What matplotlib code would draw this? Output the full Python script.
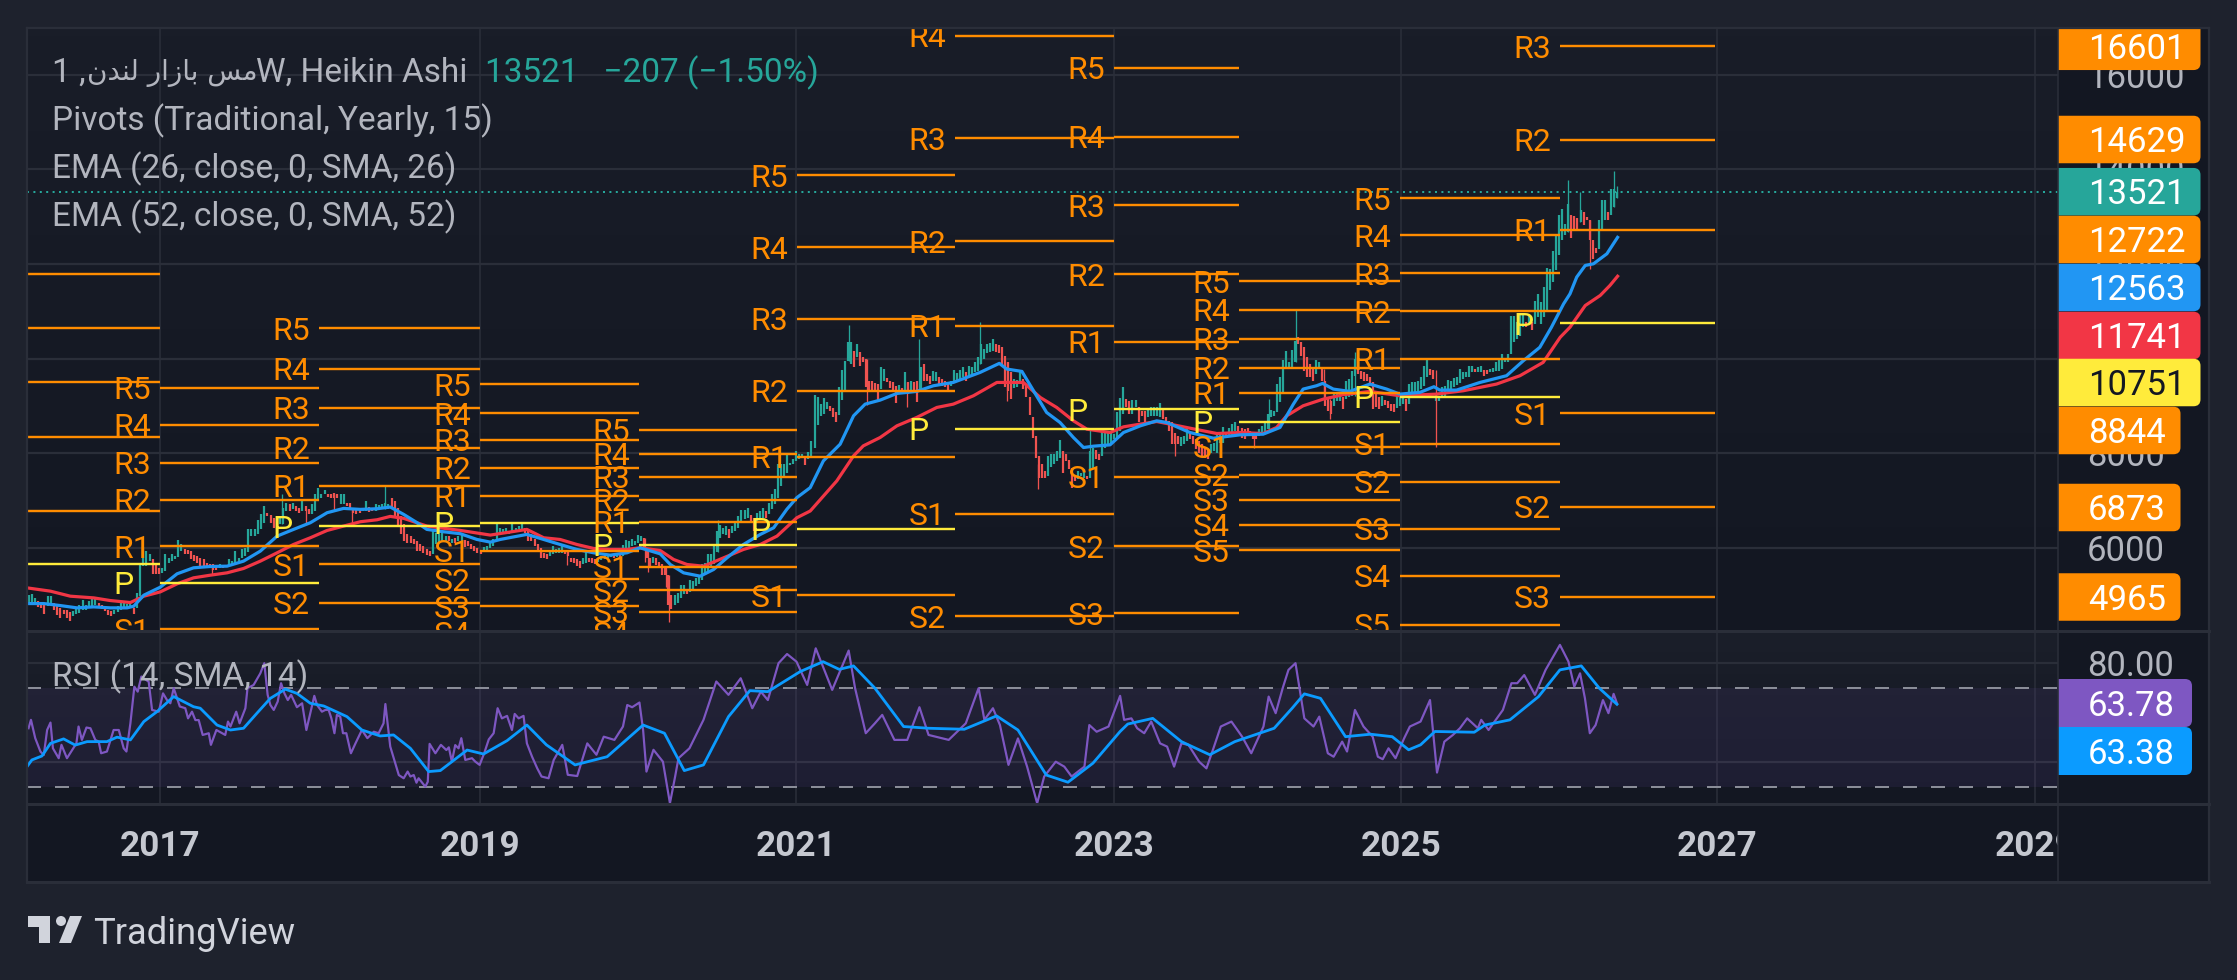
import numpy as np
import matplotlib
matplotlib.use("Agg")
import matplotlib.pyplot as plt
from matplotlib.collections import LineCollection
from matplotlib.lines import Line2D
from matplotlib.patches import PathPatch, Polygon, Circle
from matplotlib.path import Path
from matplotlib.transforms import Affine2D

# ---------- data: weekly Heikin Ashi bodies as (open, close) ----------
bodies_2016_2019 = [
(4790,5010),(4835,5025),(4835,4940),(4885,4750),(4835,4730),(4800,4600),(4765,4990),(4800,4990),(4835,4695),(4785,4575),
(4730,4520),(4695,4600),(4675,4520),(4645,4460),(4555,4660),(4590,4730),(4625,4785),(4675,4905),(4695,4785),(4730,4870),
(4765,4925),(4800,4925),(4835,4765),(4800,4715),(4765,4660),(4695,4575),(4660,4555),(4605,4695),(4645,4765),(4695,4835),
(4730,4835),(4715,4815),(4730,4835),(4730,4600),(4730,5045),(4975,5680),(5612,6015),(5612,5930),(5718,5859),(5753,5436),
(5647,5436),(5577,5436),(5471,5577),(5506,5859),(5683,5789),(5718,5859),(5753,5824),(5803,6156),(5930,6071),(5965,5859),
(5944,5859),(5930,5753),(5838,5718),(5824,5683),(5789,5612),(5753,5591),(5683,5577),(5647,5577),(5647,5541),(5612,5541),
(5563,5647),(5633,5577),(5633,5591),(5612,5767),(5633,5718),(5661,5930),(5718,5789),(5789,5965),(5824,5986),(5916,6403),
(6247,6403),(6247,6403),(6297,6579),(6389,6720),(6530,6883),(6742,6671),(6685,6530),(6636,6424),(6600,6389),(6495,6671),
(6495,6848),(6777,6954),(6918,6777),(6812,6954),(6883,6777),(6848,6742),(6777,6989),(6883,6777),(6812,6706),(6706,6918),
(6777,7130),(6989,7257),(7059,7130),(7130,7215),(7130,7073),(7130,7045),(7165,7059),(7144,7045),(6918,7130),(6918,7144),
(6954,6883),(6954,6848),(6848,6742),(6812,6706),(6812,6742),(6777,6848),(6777,6989),(6862,6763),(6848,6777),(6777,6918),
(6812,6904),(6812,6918),(6812,6954),(6812,6918),(7045,6862),(6989,6671),(6848,6480),(6671,6283),(6495,6142),(6283,6106),
(6247,6106),(6177,6071),(6142,5930),(6071,5930),(6036,5895),(5965,5845),(5930,5824),(5873,6353),(6071,6318),(6120,6283),
(6142,6318),(6142,6247),(6247,6142),(6106,6177),(6212,6106),(6142,6247),(6106,6318),(6156,6015),(6142,6036),(6071,5965),
(6036,5930),(5986,5895),(5944,5859),(5930,6015),(5944,6036),(5986,6106),(6036,6177),(6142,6495),(6318,6424),(6339,6389),
(6339,6424),(6283,6353),(6318,6509),(6339,6424),(6389,6459),(6389,6495),(6424,6318)]

bodies_2019_2021 = [
(6388,6141),(6282,6141),(6176,6035),(6070,5929),(6000,5774),(5894,5774),(5859,5753),(5823,5929),(5859,6035),(5894,5964),
(5894,5986),(5894,6035),(5929,5859),(5929,5823),(5788,5703),(5788,5682),(5753,5611),(5717,5576),(5647,5788),(5682,5915),
(5788,5703),(5774,5682),(5753,5647),(5703,5788),(5732,5823),(5753,5859),(5788,5873),(5802,5873),(5859,5788),(5802,5873),
(5894,5802),(5823,6056),(5894,6155),(6000,6141),(6035,6190),(6056,6141),(6106,6268),(6141,6247),(6197,6000),(5965,5788),
(5788,5611),(5682,5802),(5774,5632),(5703,5611),(5661,5435),(5611,5435),(5435,4800),(5011,4715),(4800,5011),(4835,5047),
(4941,5223),(5025,5223),(5117,5032),(5068,5329),(5138,5308),(5188,5364),(5237,5435),(5329,5647),(5435,5682),(5491,5859),
(5576,5859),(5647,6085),(5915,6353),(6197,6480),(6282,6409),(6268,6459),(6388,6212),(6317,6459),(6353,6529),(6409,6671),
(6529,6790),(6600,6790),(6635,6833),(6692,6543),(6621,6353),(6550,6741),(6600,6776),(6635,6833),(6776,6635),(6706,6953),
(6812,7129),(6918,7235),(7059,7765),(7306,7779),(7482,7765),(7588,7962),(7751,7800),(7765,7871),(7835,8047),(7871,7991),
(7906,7977),(7906,7751),(7871,8033),(7906,8259)]

bodies_2021_2024 = [
(8120,9228),(8600,9179),(8790,9037),(8826,9164),(8932,9073),(9002,8896),(8953,8755),(8861,8670),(8811,9405),(9122,9757),
(9334,9955),(9955,10343),(9885,10343),(10167,9828),(10026,10308),(10132,9849),(10040,9920),(9990,9390),(9532,9334),(9517,9320),
(9475,9306),(9461,9122),(9355,9828),(9532,9779),(9588,9496),(9532,9376),(9496,9320),(9426,9052),(9320,9447),(9376,9306),
(9285,9708),(9496,9249),(9334,9517),(9496,9285),(9517,9073),(9355,9814),(9885,9532),(9673,9532),(9637,9461),(9532,9729),
(9532,9708),(9616,9461),(9567,9426),(9532,9390),(9496,9320),(9426,9532),(9475,9757),(9496,9687),(9567,9757),(9602,9814),
(9708,9517),(9616,9849),(9659,9828),(9708,9920),(9743,10026),(9885,10308),(9991,10202),(10110,10308),(10132,10322),(10167,10414),
(10308,10132),(10294,10110),(10238,9849),(10061,9390),(9920,9320),(9708,9143),(9376,9567),(9390,9546),(9461,9743),(9567,9355),
(9461,9179),(9179,8811),(8755,8317),(8367,7908),(7943,7484),(7767,7484),(7625,7484),(7519,7943),(7710,7978),(7767,7992),
(7837,8049),(7908,8275),(8049,7590),(7978,7837),(7851,7661),(7696,7258),(7519,7414),(7449,7625),(7520,7590),(7484,7661),
(7520,7449),(7470,8049),(7696,8120),(8063,7873),(7992,7851),(7943,8458),(8120,8458),(8155,8437),(8204,8458),(8296,8416),
(8331,8861),(8473,9164),(8826,9405),(9143,8967),(9108,8826),(8826,9122),(8967,9122),(8967,8649),(8896,8790),(8896,8649),
(8755,8953),(8790,8967),(8790,8967),(8790,8981),(8755,9052),(8910,8720),(8755,8614),(8684,8473),(8649,8190),(8437,8190),
(8367,8190),(8155,8332),(8190,8367),(8261,8543),(8402,8296),(8367,8190),(8296,8084),(8261,8014),(8190,7943),(8120,7908),
(8084,7873),(8014,8190),(8049,8226),(8014,8437),(8226,8437),(8226,8557),(8437,8331),(8367,8543),(8367,8614),(8473,8649),
(8579,8437)]

bodies_2024_2026 = [
(8543,8331),(8508,8296),(8543,8367),(8473,8367),(8437,8296),(8437,8296),(8367,8508),(8402,8579),(8437,8670),(8508,8826),
(8769,8910),(8790,8896),(8861,9461),(9073,9602),(9285,9969),(9779,10167),(9779,9920),(9814,10181),(9920,10379),(10449,10308),
(10343,10061),(10238,9743),(10026,9602),(9885,9602),(9779,9532),(9673,9969),(9779,9920),(9779,9532),(9532,9002),(9143,8896),
(9108,8826),(9002,9263),(9108,9263),(9108,9285),(9179,8931),(9143,9532),(9179,9567),(9214,9743),(9637,9991),(9779,9673),
(9743,9567),(9708,9532),(9673,9532),(9602,9461),(9496,8931),(9249,8967),(9179,8931),(9002,9214),(9122,9023),(9108,8953),
(9037,8896),(9037,8861),(8953,9249),(9002,9249),(9037,9249),(9143,8896),(9037,9461),(9179,9496),(9249,9496),(9320,9532),
(9355,9616),(9426,9849),(9602,10012),(9779,9659),(9757,9567),(9108,9249),(9108,9214),(9179,9405),(9214,9426),(9320,9546),
(9355,9517),(9405,9588),(9447,9616),(9475,9779),(9567,9708),(9602,9708),(9616,9849),(9708,9849),(9779,9708),(9708,9828),
(9708,9849),(9757,9637),(9757,9673),(9708,9779),(9708,9793),(9729,9920),(9743,9969),(9779,10096),(9920,9991),(9920,10096),
(10096,10908),(10343,10908),(10414,10767),(10485,10929),(10661,10944),(10767,10675),(10732,10908),(10767,10605),(10732,11226),(10873,11367)]

bodies_2026 = [
(10734,11192),(10875,11524),(11002,11920),(11440,11898),(11616,12273),(11863,12605),(12181,13028),(12499,13169),(12604,12852),(12675,13275),
(13042,12548),(13007,12710),(12979,12746),(12887,13134),(13099,12816),(12993,12922),(12922,12499),(12499,12110),(12343,12230),(12322,12922),
(12710,13360),(12922,13346),(13099,12936),(13028,13593),(13205,13593),(13402,13521)]

body_chunks = [bodies_2016_2019, bodies_2019_2021, bodies_2021_2024, bodies_2024_2026, bodies_2026]
chunk_first_bar = [0.5, 164.4, 258.2, 398.2, 496.4, 522.3]

# long thin wicks
wick_bar = [60.7,83.6,91.5,100.5,106.6,117.4,177.2,202.5,203.5,209.5,210.5,226.4,269.4,275.5,288.4,292.5,312.5,321.2,331.6,348.6,376.4,
            402.3,407.2,416.2,425.2,427.2,435.4,462.1,505.3,509.2,512.5,520.4,521.3]
wick_top = [5647,7130,6812,7144,6812,7306,5929,6197,5965,5611,5435,6579,10718,9990,9496,10414,10767,9920,7767,8529,8367,
            8437,9143,11050,9779,9143,10132,9757,13769,13522,12922,13960,13642]
wick_bottom = [5421,6495,6530,6791,6509,6812,5626,5703,5491,5174,4432,5915,9955,9023,8967,9355,9885,9108,7237,7696,7943,
               8120,8508,9920,9143,8720,9214,8141,12675,12887,11898,13205,13402]
wick_up = [0,1,0,0,0,1,0,0,0,0,0,1,1,0,0,1,1,0,0,1,0,
           0,1,1,0,0,1,0,1,1,0,1,1]

ema26_bar = [0,5.5,10.9,16.4,21.9,27.3,32.8,35,38.3,43.7,49.2,54.6,60.1,65.6,71,76.5,82,87.4,92.9,98.4,103.8,109.3,114.8,119.1,123.5,127.9,131.1,136.6,142.1,147.5,151.9,155.2,163.9,
             169.4,174.8,180.3,185.8,191.2,196.7,201,207.6,210.9,215.3,220.7,225.1,229.5,234.9,240.4,244.8,249.1,252.4,256.8,261.1,266.6,271,274.8,279.7,285.2,291.7,297.2,303.7,312.5,318.8,321.2,326.2,330,334.3,338.7,343.1,346.4,349.6,355.1,359.5,365,370.4,373.7,381.3,389,397.7,
             405.3,410.8,415.2,418.4,422.8,424.8,428.3,433.7,440.3,445.8,450.1,456.7,461.3,463.2,468.7,476.4,485.1,490.6,496,499.8,503.8,505.9,508.1,510.9,513.6,518,521.5]
ema26_val = [4821,4821,4779,4730,4751,4730,4730,4765,4998,5167,5450,5577,5605,5612,5718,5930,6247,6389,6530,6742,6833,6812,6826,6862,6706,6530,6389,6339,6297,6177,6120,6177,6283,
             6176,6070,5965,5894,5845,5894,6000,5873,5647,5470,5400,5541,5788,6070,6282,6423,6812,7060,7272,7837,8190,8790,9037,9122,9263,9306,9426,9496,9708,9899,9779,9729,9320,8861,8649,8331,8120,8148,8176,8437,8578,8684,8649,8437,8317,8388,
             8402,8543,9037,9355,9426,9475,9355,9306,9461,9355,9249,9285,9405,9334,9334,9496,9638,9955,10238,10661,11157,11369,11722,11969,12004,12216,12563]

ema52_bar = [0,7.7,14.2,21.9,27.3,33.9,38.3,43.7,49.2,54.6,60.1,65.6,71,76.5,82,87.4,92.9,98.4,103.8,109.3,114.8,119.1,123.5,131.1,142.1,151.9,163.9,
             169.4,174.8,180.3,185.8,191.2,196.7,201,207.6,212,216.4,221.8,228.4,234.9,240.4,245.9,252.4,256.8,265.5,271,274.2,279.7,285.2,291.7,298.3,303.7,310.3,318,326.7,332.2,337.6,343.1,347.5,355.1,359.5,370.4,381.3,390.1,397.7,
             405.3,409.7,413,418.4,425,431.5,440.3,450.1,462.1,470.9,481.8,489.5,497.1,502.7,505.9,510.9,515.8,519,521.5]
ema52_val = [5153,5083,4977,4941,4885,4843,4977,5068,5238,5365,5421,5471,5563,5718,5894,6071,6212,6367,6459,6551,6593,6664,6622,6459,6367,6269,6389,
             6212,6176,6070,5986,5965,5965,6000,5943,5753,5647,5611,5788,5965,6070,6247,6635,6778,7414,7943,8155,8331,8578,8755,8967,9037,9214,9496,9496,9179,8967,8684,8508,8437,8557,8670,8529,8416,8437,
             8416,8543,8790,9002,9143,9235,9306,9214,9249,9320,9461,9638,9920,10451,10663,11122,11334,11546,11741]

rsi_bar = [0.5,1.3,2.7,4.4,5.5,6.6,7.7,8.5,10.4,11.3,13.1,14.8,16.2,16.9,18,19.5,20.8,22.4,23.5,24.3,26.2,28.4,30.1,31.7,32.6,33.9,35.2,36.3,37.5,39.9,41,43.2,44.6,45.9,47,48.1,50.1,51.9,52.8,54.1,55.2,56.3,57.6,59.6,60.3,62.1,65,65.9,66.7,68.6,69.7,71.6,72.3,74.3,76.5,77.8,78.9,79.8,80.9,82.2,83.3,84.4,85.5,86.6,88.5,90.2,91.6,94.2,95.1,96.7,97.8,98.9,99.8,100.8,101.6,102.7,103.6,104.7,106.2,107.7,109.8,111.6,113.7,115.3,116.9,117.5,119.1,121.9,123.5,124.8,125.7,126.8,127.7,128.4,130.6,131.4,132,133.9,135.7,137.5,138.3,139.3,140.4,141.5,142.4,143.7,145.9,147,148.4,149.9,151.4,153,154.3,155.7,157.4,159,159.9,161.2,162.8,163.9,
           165.6,167.3,168.7,171,172.7,175.5,177.3,180.4,183.7,186.7,189.1,192.6,195.4,196.8,198.4,200.8,202,203.1,205.4,208.5,210.8,212.5,213.6,217.2,221.8,226,230,234,237.8,240.6,242.9,246.4,249.2,252.3,255.8,258.6,264,269.4,271.5,275,278,280.4,284.4,288.6,292.6,295.6,302.2,307.8,312,313.9,316.7,319,321.8,324.9,327.9,331.2,333.5,337.3,340.1,342.5,346.7,348.3,350.7,354.6,358.4,
           359.7,362.1,364,366.3,368.6,371.5,373.8,376.1,378.5,380.8,384.3,386.7,389,391.4,394.9,398.4,401.4,405.4,407.1,409.4,411.7,413.6,415.9,418.8,421.8,423.7,426.5,428.4,431.2,432.8,435.4,438.2,441.2,442.9,444.5,446.4,448.7,451.5,453.4,456.9,460,462.3,464.7,467.5,469.8,472.2,475.7,476.8,479.2,483.9,486.7,488.6,490.9,494.4,497.9,502.6,505.4,507.3,509.2,510.8,512.4,514.3,516.7,518.5,520.2,521.3]
rsi_val = [53.7,57.1,49.7,44.3,42.9,53,56,45.6,41.6,47,41.6,44.9,47.6,54.4,49,54,53.7,49,48.3,43.6,44.3,53,53,45.6,44.3,55.7,70.5,68.5,74.6,72.5,61.1,60.4,67.8,65.1,63.8,69.9,62.5,61.8,57.7,60.4,57,57,51,51.7,47,53,51,56.4,54.4,60.4,55.7,61.8,69.9,71.2,75.9,80,67.2,63.1,61.1,64.5,71.9,67.8,65.1,67.2,62.2,63.8,53,66.8,63.1,60.4,61.1,61.1,57.7,51.7,59.1,58.4,51.7,51.7,43.6,47.6,53,49.7,52.3,51.7,55.7,63.5,46.3,34.8,33.5,36.2,34.2,34.8,31.7,33.5,30.1,32.1,47.4,43.6,47,44.9,46,40.2,46.9,45.6,49.7,40.9,41.6,40.2,38.9,43.6,49.2,51.7,61.8,57.7,58.7,53,59.5,57.7,58.7,47.6,
           42.2,37.5,34.2,33.5,40.9,47,34.9,34.4,47.6,43,50.3,49,54.4,63.1,62.2,64.1,53,36.2,45,40.2,23.4,34.2,41.6,45.6,57.1,72.6,67.2,73.9,61.8,68.5,65.1,80,83.7,80.6,71.2,86,69.2,85.1,69.9,51.7,55.7,59.1,49,49,62.2,51,49,55.7,69.9,57.1,61.8,55,38.9,49.6,38.2,23.4,34.2,40.2,38.2,34.2,38.2,55,52.3,54.4,66.8,
           57.1,57.7,53.7,51.7,56.4,47.6,46.3,38.2,47.6,47,40.2,37.5,45.6,54.4,56.4,50.3,43.6,54.4,66.5,59.8,69.9,77.3,80,57.7,54.4,58.4,43.6,42.2,48.3,44.3,61.1,54.4,50.3,42.2,41.2,45.6,41.6,49.6,54.4,56.4,65.1,35.8,48.3,51,53.7,57.7,53.7,57.1,53,61.1,71.9,71.9,75.2,67.2,77.3,87.4,80.6,70.5,75.9,65.8,51.7,55,65.1,59.8,67.6,63.78]

rsi_sma_bar = [0,1.6,4.9,7.7,12,15.8,19.7,26.2,29.5,33.9,38.3,42.6,48.1,54.6,56.8,62.3,66.7,71,75.4,79.8,84.7,88.5,92.9,97.3,104.9,109.8,115.8,120.2,125.7,131.7,135.5,144.3,149.7,157.4,163.9,
               170.3,179.7,190.2,202,209,215.5,221.8,230,237,242.9,253.5,261,266.3,271,278,287.4,295.6,307.3,317.9,324.9,334.2,341.3,349.5,358.4,
               360.9,369.1,378.5,387.8,396,408.9,414.8,418.8,424.1,432.3,440.5,447.6,453,456.9,461.6,474.5,478,486.2,495.6,502.6,509.6,515.5,521.3]
rsi_sma_val = [38.2,40.9,42.5,47.6,49.4,46.9,48.3,48.3,50.1,49,56.4,60.4,66.5,62.4,61.8,55,53,53.7,59.8,65.8,69.5,67.8,63.8,62.7,58.4,53,50.6,51,45.6,36.2,36.6,44.9,43.3,48.7,55,
               47,38.9,42.2,55,51.7,36.6,38.9,58.4,68.9,68.5,76.6,80.6,77.5,78.9,69.9,54.4,53.7,53.3,58.7,53,34.8,31.9,39.6,52.4,
               55.4,57.7,48.3,43,48.3,53.7,61.8,67.6,65.8,50.3,51.3,50.3,45,47,52.4,52.1,55,57.1,66.5,77.3,78.9,69.9,63.38]

# yearly pivot levels: name -> price for each period
pivot_names = ["R5","R4","R3","R2","R1","P","S1","S2","S3","S4","S5"]
pivot_start_bar = [-4,43.6,95.7,148.5,200.7,252.5,304.3,356.4,397.4,450.2,502.6]
pivot_end_bar = [43.6,95.7,148.5,200.7,252.5,304.3,356.4,397.4,450.2,502.6,553.4]
pivots_2016 = [11780,10638,9496,8346,6780,5656]
pivots_2017 = [9384,8605,7801,7014,6037,5258,4281]
pivots_2018 = [10638,9790,8960,8112,7308,6460,5656,4834]
pivots_2019 = [9453,8848,8285,7689,7100,6530,5933,5336,4765,4200]
pivots_2020 = [8493,7991,7498,7014,6547,6062,5595,5102,4644,4200]
pivots_2021 = [13881,12350,10845,9323,7922,6400,4999]
pivots_2022 = [18800,16822,14660,12480,10698,8519,6720,4558]
pivots_2023 = [16147,14686,13241,11780,10361,8925,7498,6037,4618]
pivots_2024 = [11632,11036,10422,9808,9280,8666,8138,7541,7014,6486,5950]
pivots_2025 = [13388,12610,11805,11001,10000,9193,8199,7394,6400,5405,4376]
pivots_2026 = [18500,18000,16601,14629,12722,10751,8844,6873,4965]
pivot_rows = [pivots_2016,pivots_2017,pivots_2018,pivots_2019,pivots_2020,pivots_2021,pivots_2022,pivots_2023,pivots_2024,pivots_2025,pivots_2026]

price_ticks = [16000,14000,12000,10000,8000,6000]
rsi_grid = [80,40]
rsi_bounds = [70,30]
time_labels = ["2017","2019","2021","2023","2025","2027","2029"]
time_bars = [43.6,148.5,252.2,356.3,450.5,554.2,658.4]
last_price = 13521

price_tags = ["16601","14629","13521","12722","12563","11741","10751","8844","6873","4965"]
price_tag_colors = ["#FF8C00","#FF8C00","#26A69A","#FF8C00","#2196F3","#F23645","#FFEB3B","#FF8C00","#FF8C00","#FF8C00"]
rsi_tags = ["63.78","63.38"]
rsi_tag_colors = ["#7E57C2","#0B9BFF"]

# ---------- layout ----------
W, H = 2237, 980
PAGE, PANE = "#1E222D", "#131722"
GRID = "#2A2E39"
ORANGE, YELLOW = "#FF8C00", "#FFEB3B"
GREEN, RED = "#26A69A", "#EF5350"
TEXT = "#B2B5BE"
L, R, RIGHT, TOP, MID, LOW, BOT = 27, 2058, 2209, 28, 631, 804, 882
BAR_PX = 3.05
LEGEND_PT = 24.0
AXIS_PT = 24.9
plt.rcParams['font.family'] = ['Roboto', 'DejaVu Sans']
pt = 0.72

fig = plt.figure(figsize=(W/100, H/100), dpi=100, facecolor=PAGE)
to_px = Affine2D().scale(1, -1).translate(0, H)

def pane(x0, y0, x1, y1):
    ax = fig.add_axes([x0/W, 1-y1/H, (x1-x0)/W, (y1-y0)/H])
    ax.set_facecolor(PANE)
    ax.set_xticks([]); ax.set_yticks([])
    for s in ax.spines.values():
        s.set_visible(False)
    return ax

def gradient(ax, c0, c1):
    a = np.linspace(0, 1, 64)[:, None, None]
    img = (np.array(c0)[None, None, :]*(1-a) + np.array(c1)[None, None, :]*a)/255
    ax.imshow(img, transform=ax.transAxes, extent=(0, 1, 0, 1), aspect='auto', zorder=0, origin='upper')

def tag(ax, x0, x1, yc, h, color, txt, tcolor, size):
    r = 7
    y0, y1 = yc-h/2, yc+h/2
    verts = [(x0,y0),(x1-r,y0),(x1,y0),(x1,y0+r),(x1,y1-r),(x1,y1),(x1-r,y1),(x0,y1),(x0,y0)]
    codes = [Path.MOVETO,Path.LINETO,Path.CURVE3,Path.CURVE3,Path.LINETO,Path.CURVE3,Path.CURVE3,Path.LINETO,Path.CLOSEPOLY]
    ax.add_patch(PathPatch(Path(verts, codes), facecolor=color, edgecolor='none', transform=to_px, zorder=5))
    ax.text(2088, yc+3, txt, color=tcolor, fontsize=size, ha='left', va='center', transform=to_px, zorder=6, clip_on=True)

ax = pane(L, TOP, R, MID)
ax_r = pane(R, TOP, RIGHT, MID)
ax_rsi = pane(L, MID, R, LOW)
ax_rsi_r = pane(R, MID, RIGHT, LOW)
ax_t = pane(L, LOW, R, BOT)
ax_t_r = pane(R, LOW, RIGHT, BOT)

gradient(ax, (25, 29, 40), (19, 23, 34))
gradient(ax_rsi, (27, 31, 42), (19, 23, 34))

xlim = (0, (R-L)/BAR_PX)
price_lim = (4241, 16989)
rsi_lim = (23.1, 93.0)
for a in (ax, ax_rsi, ax_t):
    a.set_xlim(*xlim)
ax.set_ylim(*price_lim)
ax_rsi.set_ylim(*rsi_lim)
ax_r.set_ylim(*price_lim); ax_r.set_xlim(R, RIGHT)
ax_rsi_r.set_ylim(*rsi_lim); ax_rsi_r.set_xlim(R, RIGHT)
ax_t.set_ylim(0, 1)

# grid
for p in price_ticks:
    ax.axhline(p, color=GRID, lw=2.2*pt, zorder=1)
    ax_r.text(2087, p, str(p), color=TEXT, fontsize=AXIS_PT, ha='left', va='center_baseline', zorder=2)
for g in rsi_grid:
    ax_rsi.axhline(g, color=GRID, lw=2.2*pt, zorder=1)
for b in time_bars:
    ax.axvline(b, color=GRID, lw=1.6*pt, zorder=1)
    ax_rsi.axvline(b, color=GRID, lw=1.6*pt, zorder=1)

# candles
xs, ops, cls = [], [], []
for k, chunk in enumerate(body_chunks):
    xs.extend(np.linspace(chunk_first_bar[k], chunk_first_bar[k+1], len(chunk), endpoint=False))
    for o, c in chunk:
        ops.append(o); cls.append(c)
colors = [GREEN if c >= o else RED for o, c in zip(ops, cls)]
ax.add_collection(LineCollection([[(x, o), (x, c)] for x, o, c in zip(xs, ops, cls)],
                                 colors=colors, linewidths=2.2*pt, capstyle='butt', zorder=3))
ax.add_collection(LineCollection([[(x, b), (x, t)] for x, t, b in zip(wick_bar, wick_top, wick_bottom)],
                                 colors=[GREEN if u else RED for u in wick_up], linewidths=1.3*pt, capstyle='butt', zorder=3))

# moving averages
ax.plot(ema52_bar, ema52_val, color="#F23645", lw=3.2*pt, zorder=4, solid_joinstyle='round')
ax.plot(ema26_bar, ema26_val, color="#2196F3", lw=3.2*pt, zorder=4, solid_joinstyle='round')

# pivots
for row, x0, x1 in zip(pivot_rows, pivot_start_bar, pivot_end_bar):
    for name, level in zip(pivot_names, row):
        col = YELLOW if name == "P" else ORANGE
        ax.plot([x0, x1], [level, level], color=col, lw=2.4*pt, zorder=5, solid_capstyle='butt')
        visible = price_lim[0]-150 < level < price_lim[1]+150 and x0 > 10
        if visible:
            ax.annotate(name, (x0, level), xytext=(-46.5*pt, 0), textcoords='offset points', color=col,
                        fontsize=23.0, ha='left', va='center_baseline', zorder=6, annotation_clip=False, clip_on=True)

# last price
ax.axhline(last_price, color=GREEN, lw=2*pt, dashes=(1, 2.2), zorder=5)

# legend
for y, s in zip((121, 169, 217), ("Pivots (Traditional, Yearly, 15)", "EMA (26, close, 0, SMA, 26)", "EMA (52, close, 0, SMA, 52)")):
    ax.text(52, y, s, color=TEXT, fontsize=LEGEND_PT, ha='left', va='center', transform=to_px, zorder=8)
ax.text(52, 73, "1 ,", color=TEXT, fontsize=LEGEND_PT, ha='left', va='center', transform=to_px, zorder=8)
arabic_visual = "\ufee5\ufeaa\ufee8\ufedf" + " " + "\ufead\ufe8d\ufeaf\ufe8e\ufe91" + " " + "\ufeb2\ufee3"
ax.text(87, 73, arabic_visual, color=TEXT, fontsize=20, family='DejaVu Sans', ha='left', va='center', transform=to_px, zorder=8)
ax.text(256, 73, "W, Heikin Ashi", color=TEXT, fontsize=LEGEND_PT, ha='left', va='center', transform=to_px, zorder=8)
ax.text(485, 73, "13521   \u2212207 (\u22121.50%)", color=GREEN, fontsize=LEGEND_PT, ha='left', va='center', transform=to_px, zorder=8)

# price tags
tag_centers = [46.3, 139.5, 191.7, 239.5, 287.5, 335.5, 382.5, 430.5, 507.5, 597]
tag_right = [2200.5]*7 + [2180.5]*3
for t, c, yc, xr in zip(price_tags, price_tag_colors, tag_centers, tag_right):
    dark = c == YELLOW
    tag(ax_r, R, xr, yc, 47.5, c, t, "#131722" if dark else "#FFFFFF", AXIS_PT)

# RSI
ax_rsi.axhspan(rsi_bounds[1], rsi_bounds[0], color="#7E57C2", alpha=0.1, lw=0, zorder=1)
for b in rsi_bounds:
    ax_rsi.axhline(b, color="#8A8D98", lw=2*pt, dashes=(7, 7), zorder=2)
ax_rsi.plot(rsi_bar, rsi_val, color="#7E57C2", lw=2.2*pt, zorder=3, solid_joinstyle='round')
ax_rsi.plot(rsi_sma_bar, rsi_sma_val, color="#0B9BFF", lw=2.8*pt, zorder=4, solid_joinstyle='round')
ax_rsi.text(52, 677, "RSI (14, SMA, 14)", color=TEXT, fontsize=LEGEND_PT, ha='left', va='center', transform=to_px, zorder=8)
ax_rsi_r.text(2087, 80, "80.00", color=TEXT, fontsize=AXIS_PT, ha='left', va='center_baseline', zorder=2)
for t, c, yc in zip(rsi_tags, rsi_tag_colors, (703, 751)):
    tag(ax_rsi_r, R, 2192, yc, 48, c, t, "#FFFFFF", AXIS_PT)

# time axis
for lab, b in zip(time_labels, time_bars):
    ax_t.text(b, 0.46, lab, color="#C5C8D0", fontsize=25.3, fontweight='bold', ha='center', va='center', clip_on=True)

# frame
def frame(x0, y0, x1, y1, lw=2.2):
    fig.add_artist(Line2D([x0, x1], [y0, y1], color=GRID, lw=lw*pt, transform=to_px, zorder=20))
frame(L, TOP, RIGHT, TOP); frame(L, MID, RIGHT, MID, 3); frame(L, LOW, RIGHT, LOW, 3); frame(L, BOT, RIGHT, BOT, 3)
frame(L, TOP, L, BOT); frame(RIGHT, TOP, RIGHT, BOT); frame(R, TOP, R, BOT, 1.6)

# TradingView mark
LOGO = "#D1D4DC"
fig.add_artist(Polygon([(28,916),(50,916),(50,943),(39,943),(39,927),(28,927)], closed=True, color=LOGO, lw=0, transform=to_px))
fig.add_artist(Circle((61,921), 5, color=LOGO, lw=0, transform=to_px))
fig.add_artist(Polygon([(70,916),(82,916),(71,943),(59,943)], closed=True, color=LOGO, lw=0, transform=to_px))
fig.text(93/W, 1-934/H, "TradingView", color=LOGO, fontsize=26.2, ha='left', va='center')

fig.savefig("out.png", dpi=100, facecolor=PAGE)
